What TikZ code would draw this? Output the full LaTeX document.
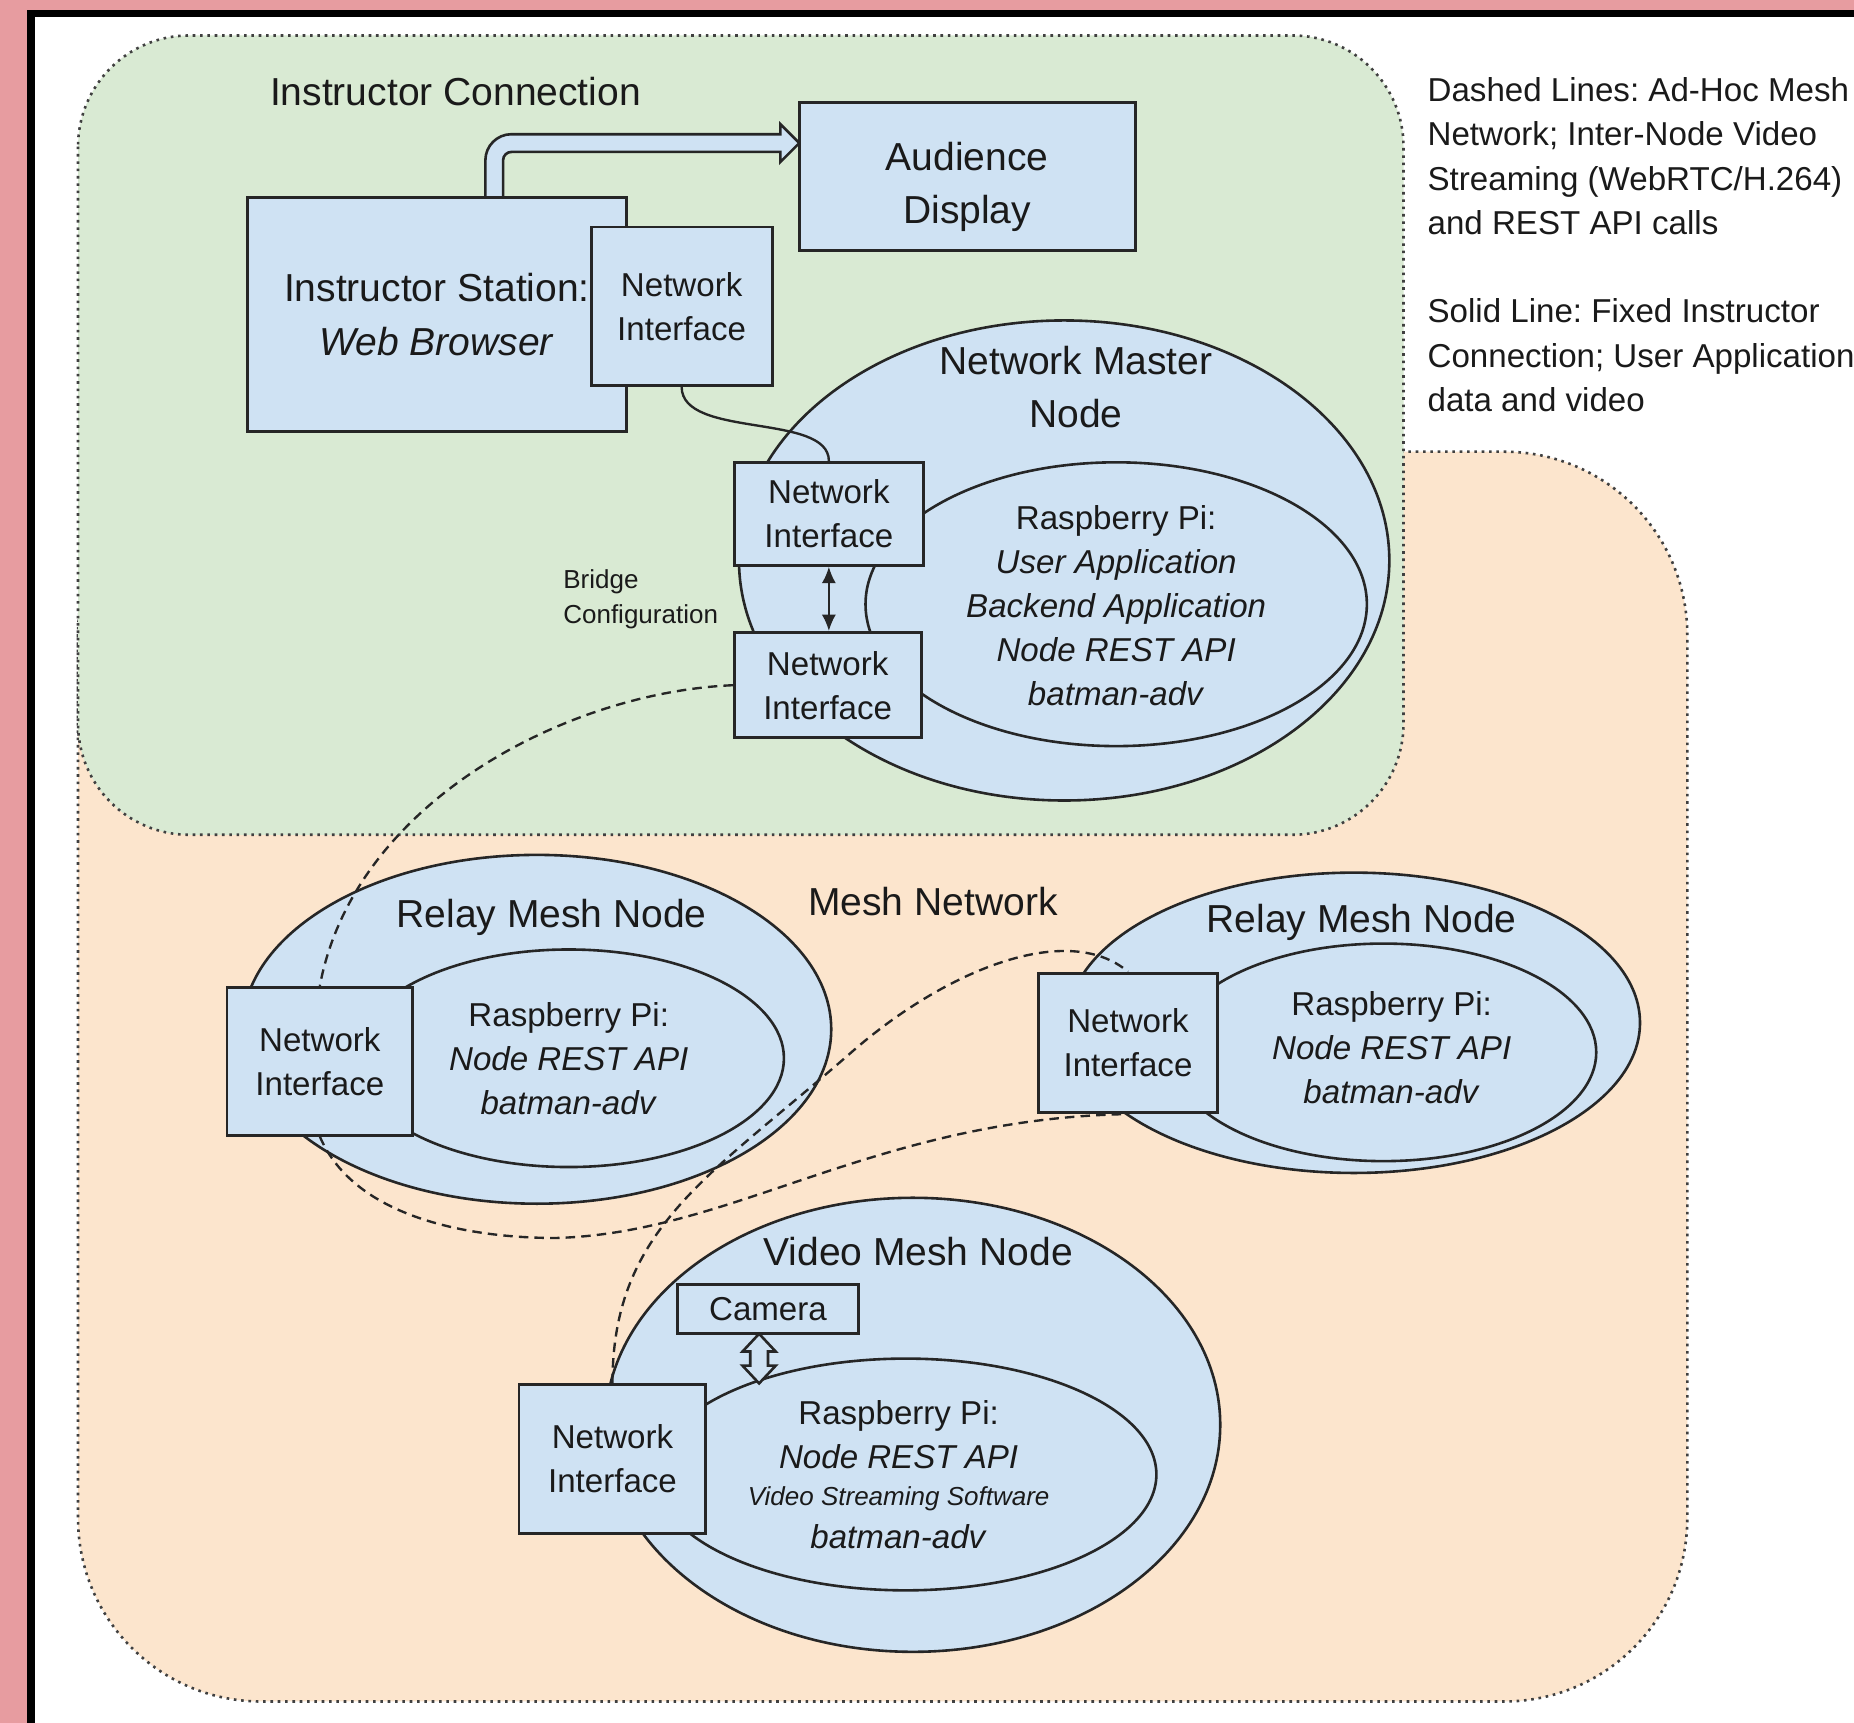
\documentclass[tikz,border=0pt]{standalone}
\usepackage{fontspec}
\setmainfont{Liberation Sans}
\usetikzlibrary{shapes.geometric,arrows.meta}
\definecolor{greenF}{HTML}{D9EAD3}
\definecolor{peachF}{HTML}{FCE5CD}
\definecolor{blueF}{HTML}{CFE2F3}
\definecolor{pinkB}{HTML}{E79CA0}
\definecolor{lineC}{HTML}{262626}
\definecolor{txtC}{HTML}{1A1A1A}
\newcommand\fBig{\fontsize{16.5}{22.5}\selectfont}
\newcommand\fMid{\fontsize{14}{18.6}\selectfont}
\newcommand\fSml{\fontsize{11}{15}\selectfont}
\newcommand\fLeg{\fontsize{14}{18.7}\selectfont}
\frenchspacing
\begin{document}
\begin{tikzpicture}[x=0.5pt,y=-0.5pt,
  box/.style={draw=lineC, fill=blueF, line width=1.2pt, inner sep=0pt, align=center, text=txtC},
  oval/.style={ellipse, draw=lineC, fill=blueF, line width=1.1pt, inner sep=0pt},
  region/.style={draw=black!75, line width=1.1pt, dash pattern=on 1.1pt off 2pt},
  meshlink/.style={draw=lineC, line width=1pt, dash pattern=on 4pt off 2.6pt},
  solidlink/.style={draw=lineC, line width=1pt},
  hollowarrow/.style={draw=lineC, fill=blueF, line width=1.1pt, line join=miter},
  lbl/.style={inner sep=0pt, text=txtC, align=center},
]
\useasboundingbox (0,0) rectangle (1568,1457);
\fill[white] (0,0) rectangle (1568,1457);
\fill[pinkB] (0,0) rectangle (1568,8.5);
\fill[pinkB] (0,0) rectangle (23,1457);
\fill[black] (23,8.5) rectangle (1568,14.5);
\fill[black] (23,8.5) rectangle (30,1457);

% regions
\draw[region, fill=peachF, rounded corners=77.5pt] (66,382) rectangle (1427,1439);
\draw[region, fill=greenF, rounded corners=47pt] (66,30) rectangle (1187,706);

% legend and labels
\node[lbl, anchor=west, align=left, font=\fLeg] (leg1) at (1207,132) {Dashed Lines: Ad-Hoc Mesh\\Network; Inter-Node Video\\Streaming (WebRTC/H.264)\\and REST API calls};
\node[lbl, anchor=west, align=left, font=\fLeg] (leg2) at (1207,300.5) {Solid Line: Fixed Instructor\\Connection; User Application\\data and video};
\node[lbl, anchor=base west, font=\fBig] (icl) at (228,89) {Instructor Connection};
\node[lbl, anchor=base, font=\fBig] (mnl) at (789,774) {Mesh Network};
\node[lbl, anchor=west, align=left, font=\fSml] (bcl) at (476,507) {Bridge\\Configuration};

% ellipses
\node[oval, minimum width=275pt, minimum height=203pt] (mOut) at (900,474) {};
\node[oval, minimum width=212pt, minimum height=120pt] (mIn) at (944,511) {};
\node[oval, minimum width=249pt, minimum height=147.5pt] (lOut) at (454,870.5) {};
\node[oval, minimum width=182pt, minimum height=92pt] (lIn) at (481,895) {};
\node[oval, minimum width=242pt, minimum height=127pt] (rOut) at (1145,865) {};
\node[oval, minimum width=180pt, minimum height=92pt] (rIn) at (1170,890) {};
\node[oval, minimum width=260pt, minimum height=192pt] (vOut) at (772,1205) {};
\node[oval, minimum width=212pt, minimum height=98pt] (vIn) at (766,1247) {};

% instructor side
\draw[hollowarrow] (410.5,167) -- (410.5,135.5) .. controls (410.5,123.4) and (420.4,113.5) .. (432.5,113.5) -- (660,113.5) -- (660,105) -- (676,121) -- (660,137) -- (660,128.5) -- (432.5,128.5) .. controls (428.6,128.5) and (425.5,131.6) .. (425.5,135.5) -- (425.5,167) -- cycle;
\node[box, minimum width=160.5pt, minimum height=99pt, font=\fBig] (is) at (369.5,266) {Instructor Station:\\\textit{Web Browser}};
\node[box, minimum width=76.5pt, minimum height=67pt, font=\fMid] (niI) at (576.5,259) {Network\\Interface};
\node[box, minimum width=142pt, minimum height=62.5pt] (ad) at (818,149.5) {};
\node[lbl, font=\fBig] (adTxt) at (818,158) {Audience\\Display};

% network interface boxes
\node[box, minimum width=80pt, minimum height=43.5pt, font=\fMid] (niMT) at (701,434.5) {Network\\Interface};
\node[box, minimum width=79pt, minimum height=44.5pt, font=\fMid] (niMB) at (700,579.5) {Network\\Interface};
\node[box, minimum width=78.5pt, minimum height=62.5pt, font=\fMid] (niL) at (270.5,897.5) {Network\\Interface};
\node[box, minimum width=76pt, minimum height=59pt, font=\fMid] (niR) at (954,882) {Network\\Interface};
\node[box, minimum width=79pt, minimum height=63pt, font=\fMid] (niV) at (518,1234) {Network\\Interface};
\node[box, minimum width=76.5pt, minimum height=21pt, font=\fMid] (cam) at (649.5,1107) {Camera};

% connectors
\draw[solidlink] (niI.south) .. controls +(0,44) and +(0,-41) .. (niMT.north);
\coordinate (bMid) at (470,1047);
\coordinate (cMid) at (720,890);
\draw[meshlink] (niMB.west) .. controls +(-141,6) and +(29,-155) .. (niL.north);
\draw[meshlink] (niL.south) .. controls +(30,70) and +(-70,0) .. (bMid) .. controls +(150,-4) and +(-214,4) .. (niR.south);
\draw[meshlink] (niV.north) .. controls +(0,-131) and +(-120,105) .. (cMid) .. controls +(80,-70) and +(-51,-43) .. (niR.north);
\draw[lineC, line width=1pt, {Latex[length=7pt,width=6pt]}-{Latex[length=7pt,width=6pt]}] (niMT.south) -- (niMT.south |- niMB.north);
\coordinate (camA) at (642,1128);
\draw[hollowarrow] (camA) -- ++(14,15) -- ++(-6.5,0) -- ++(0,12) -- ++(6.5,0) -- ++(-14,15) -- ++(-14,-15) -- ++(6.5,0) -- ++(0,-12) -- ++(-6.5,0) -- cycle;

% ellipse texts
\node[lbl, font=\fBig] (mTitle) at (910,327.5) {Network Master\\Node};
\node[lbl, font=\fMid] (mTxt) at (944,512) {Raspberry Pi:\\\textit{User Application}\\\textit{Backend Application}\\\textit{Node REST API}\\\textit{batman-adv}};
\node[lbl, anchor=base, font=\fBig] (lTitle) at (466.5,784) {Relay Mesh Node};
\node[lbl, font=\fMid] (lTxt) at (481,895) {Raspberry Pi:\\\textit{Node REST API}\\\textit{batman-adv}};
\node[lbl, anchor=base, font=\fBig] (rTitle) at (1151.5,789) {Relay Mesh Node};
\node[lbl, font=\fMid] (rTxt) at (1177,886) {Raspberry Pi:\\\textit{Node REST API}\\\textit{batman-adv}};
\node[lbl, anchor=base, font=\fBig] (vTitle) at (776.5,1070) {Video Mesh Node};
\node[lbl, anchor=base, font=\fMid] (vt1) at (760,1205) {Raspberry Pi:};
\node[lbl, anchor=base, font=\fMid] (vt2) at (760,1242) {\textit{Node REST API}};
\node[lbl, anchor=base, font=\fSml] (vt3) at (760,1273) {\textit{Video Streaming Software}};
\node[lbl, anchor=base, font=\fMid] (vt4) at (760,1310) {\textit{batman-adv}};
\end{tikzpicture}
\end{document}
